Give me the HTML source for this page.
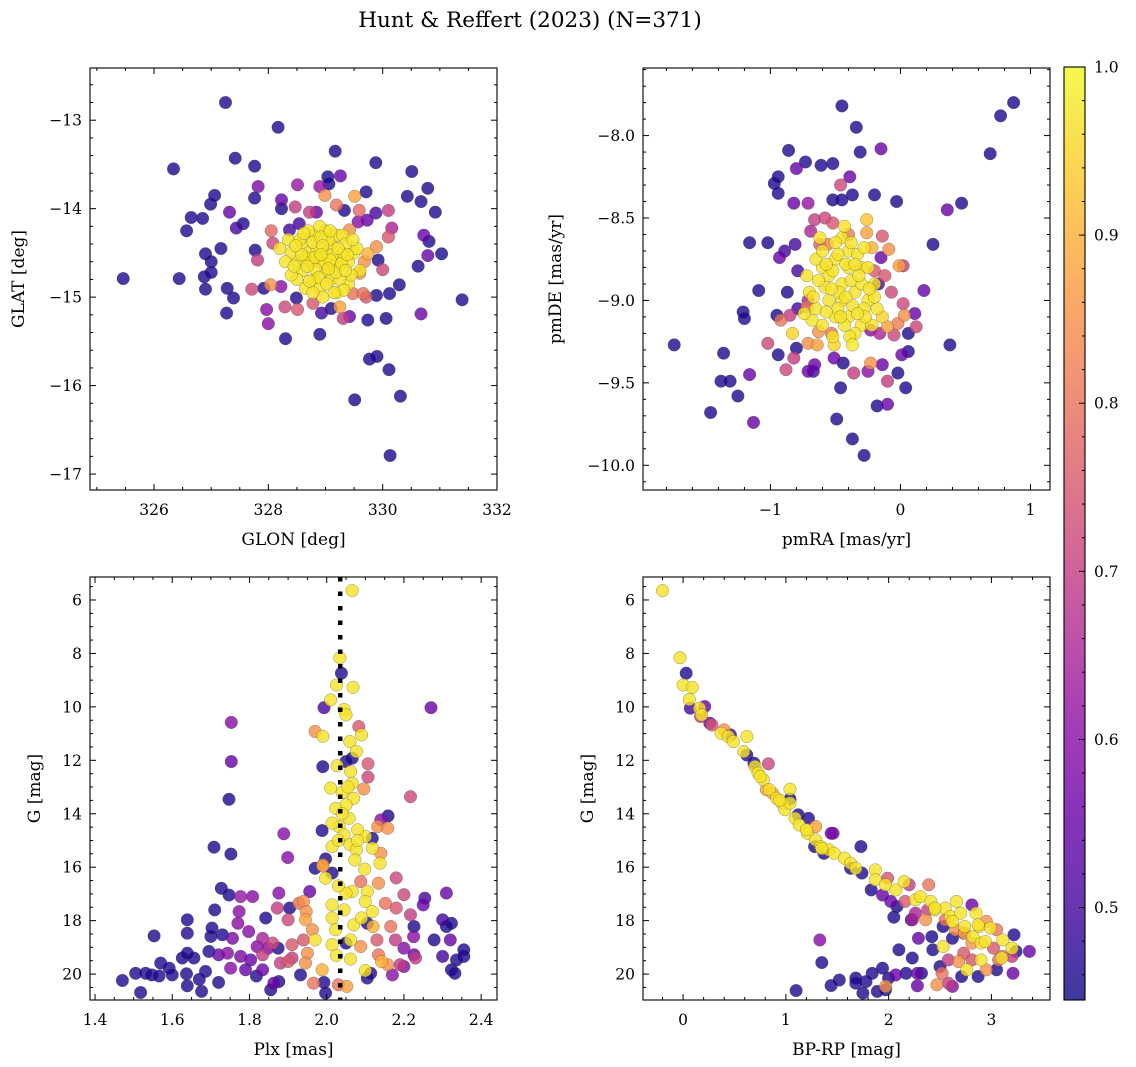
<!DOCTYPE html>
<html><head><meta charset="utf-8">
<style>
html,body{margin:0;padding:0;background:#fff;}
svg{display:block;font-family:"DejaVu Serif","Liberation Serif",serif;}
</style></head>
<body>
<svg id="fig" width="1136" height="1067" viewBox="0 0 1136 1067" xmlns="http://www.w3.org/2000/svg">
<defs>
<linearGradient id="plasmaGrad" x1="0" y1="1" x2="0" y2="0">
<stop offset="0" stop-color="#0d0887"/><stop offset="0.1" stop-color="#41049d"/><stop offset="0.2" stop-color="#6a00a8"/><stop offset="0.3" stop-color="#8f0da4"/><stop offset="0.4" stop-color="#b12a90"/><stop offset="0.5" stop-color="#cc4778"/><stop offset="0.6" stop-color="#e16462"/><stop offset="0.7" stop-color="#f2844b"/><stop offset="0.8" stop-color="#fca636"/><stop offset="0.9" stop-color="#fcce25"/><stop offset="1" stop-color="#f0f921"/>
</linearGradient>
</defs>
<text x="530" y="27" text-anchor="middle" font-size="21.5">Hunt &amp; Reffert (2023) (N=371)</text>
<g id="layer"></g>
</svg>
<script>
// ---------------- DATA ----------------
const cmin = 0.445, cmax = 1.0;
const Y = 0.97;
// Panel 1: [GLON, GLAT, prob]
const skyPoints = [
[325.46,-14.79,.46],[326.34,-13.55,.46],[326.44,-14.79,.46],[326.57,-14.25,.46],[326.65,-14.1,.46],[326.85,-14.11,.46],[326.9,-14.51,.46],[326.9,-14.91,.46],[326.88,-14.77,.46],[326.99,-13.95,.46],[327.0,-14.6,.46],[327.06,-13.85,.46],[327.0,-14.72,.46],[327.17,-14.45,.46],[327.25,-12.8,.46],[327.27,-15.18,.46],[327.28,-14.9,.46],[327.32,-14.04,.55],[327.39,-15.01,.46],[327.42,-13.43,.46],[327.44,-14.22,.5],[327.56,-14.17,.46],[327.76,-13.52,.46],[327.76,-13.88,.46],[327.77,-14.47,.46],[327.82,-13.75,.58],[327.81,-14.58,.7],[327.71,-14.91,.72],[327.92,-14.9,.46],[327.97,-15.14,.6],[328.0,-15.3,.6],[328.05,-14.25,.78],[328.08,-14.39,.72],[328.04,-14.86,.85],[328.17,-13.08,.46],[328.23,-13.9,.55],[328.23,-14.0,.46],[328.22,-14.88,.6],[328.29,-15.11,.72],[328.3,-15.47,.46],[328.47,-13.98,.7],[328.51,-13.73,.62],[328.51,-15.14,.75],[328.49,-15.01,.46],[328.9,-13.75,.62],[328.9,-15.42,.46],[328.93,-15.18,.5],[329.04,-13.64,.46],[329.06,-13.72,.46],[329.17,-13.35,.46],[329.26,-13.63,.55],[329.33,-14.02,.46],[329.19,-13.96,.8],[329.1,-15.13,.46],[329.31,-15.24,.7],[329.42,-15.22,.55],[329.51,-16.16,.46],[329.51,-13.86,.88],[329.59,-14.02,.78],[329.71,-13.81,.46],[329.73,-14.13,.55],[329.74,-15.26,.46],[329.77,-15.7,.46],[329.9,-15.67,.46],[329.88,-13.48,.46],[329.88,-14.05,.5],[329.89,-14.98,.46],[329.92,-14.58,.46],[330.0,-14.69,.72],[329.89,-14.43,.85],[329.74,-14.51,.9],[330.1,-14.02,.7],[330.1,-14.32,.75],[330.16,-14.22,.65],[330.12,-14.96,.46],[330.06,-15.24,.46],[330.11,-15.82,.46],[330.13,-16.79,.46],[330.29,-14.86,.46],[330.31,-16.12,.46],[330.43,-13.86,.46],[330.51,-13.58,.46],[330.62,-14.65,.46],[330.67,-13.92,.46],[330.72,-14.3,.55],[330.67,-15.19,.55],[330.79,-13.77,.46],[330.79,-14.53,.55],[330.81,-14.37,.46],[330.92,-14.04,.46],[331.03,-14.51,.46],[331.39,-15.03,.46],[329.48,-14.96,.8],[329.66,-14.96,.8],[329.71,-15.0,.75],[329.6,-14.73,.85],[329.68,-14.6,.85],[328.99,-13.85,.85],[328.72,-14.04,.7],[328.84,-14.04,.55],[328.54,-14.17,.5],[328.37,-14.24,.5],[329.42,-14.24,.85],[329.57,-14.15,.6],[328.78,-15.07,.75],[329.25,-15.11,.88],
[328.6,-14.4,Y],[328.7,-14.5,Y],[328.8,-14.3,Y],[328.9,-14.6,Y],[329.0,-14.5,Y],[329.1,-14.4,Y],[329.2,-14.6,Y],[329.3,-14.5,Y],[329.0,-14.7,Y],[328.8,-14.8,Y],[328.9,-14.9,Y],[329.1,-14.8,Y],[329.2,-14.3,Y],[329.4,-14.6,Y],[329.5,-14.5,Y],[328.5,-14.6,Y],[328.4,-14.5,Y],[328.3,-14.6,Y],[328.6,-14.7,Y],[328.7,-14.25,Y],[329.0,-14.25,Y],[329.3,-14.3,Y],[329.6,-14.7,Y],[329.4,-14.85,Y],[329.2,-14.95,Y],[328.95,-15.0,Y],[328.5,-14.8,Y],[328.35,-14.35,Y],[329.55,-14.45,Y],[328.85,-14.45,Y],[329.05,-14.35,Y],[329.15,-14.65,Y],[328.75,-14.6,Y],[328.55,-14.35,Y],[329.35,-14.4,Y],[329.25,-14.8,Y],[328.65,-14.9,Y],[328.4,-14.75,Y],[328.9,-14.2,Y],[329.45,-14.75,Y],[328.2,-14.45,Y],[328.98,-14.62,Y],[329.12,-14.52,Y],[328.82,-14.68,Y],
[328.65,-14.55,Y],[328.78,-14.38,Y],[328.92,-14.32,Y],[329.08,-14.58,Y],[329.18,-14.72,Y],[329.28,-14.62,Y],[329.38,-14.52,Y],[328.88,-14.78,Y],[329.02,-14.85,Y],[328.72,-14.82,Y],[328.58,-14.52,Y],[328.48,-14.42,Y],[329.32,-14.92,Y],[329.08,-14.25,Y],[328.82,-14.55,Y],[329.22,-14.45,Y],[328.68,-14.65,Y],[328.95,-14.42,Y],[329.15,-14.95,Y],[328.78,-14.95,Y],[329.48,-14.35,Y],[328.45,-14.65,Y],[329.05,-14.68,Y],[328.92,-14.52,Y],[329.35,-14.7,Y],[328.62,-14.28,Y]
];
// Panel 2: [pmRA, pmDE, prob]
const pmPoints = [
[-1.74,-9.27,.46],[-1.46,-9.68,.46],[-1.38,-9.49,.46],[-1.31,-9.49,.46],[-1.36,-9.32,.46],[-1.25,-9.58,.46],[-1.21,-9.07,.46],[-1.2,-9.11,.46],[-1.16,-9.45,.55],[-1.13,-9.74,.55],[-1.16,-8.65,.46],[-1.09,-8.94,.46],[-1.02,-8.65,.46],[-1.02,-9.26,.72],[-0.95,-9.09,.46],[-0.94,-9.33,.46],[-0.97,-8.29,.46],[-0.94,-8.25,.46],[-0.94,-8.35,.46],[-0.86,-8.09,.46],[-0.87,-8.95,.46],[-0.88,-9.42,.72],[-0.82,-8.41,.55],[-0.8,-8.2,.55],[-0.73,-8.16,.46],[-0.71,-8.41,.62],[-0.61,-8.18,.46],[-0.52,-8.17,.46],[-0.45,-7.82,.46],[-0.52,-8.39,.46],[-0.45,-8.39,.46],[-0.37,-8.36,.46],[-0.39,-8.25,.55],[-0.46,-8.3,.72],[-0.34,-7.95,.46],[-0.31,-8.1,.46],[-0.15,-8.08,.55],[-0.2,-8.36,.46],[-0.03,-8.4,.46],[0.25,-8.66,.46],[0.36,-8.45,.55],[0.47,-8.41,.46],[0.69,-8.11,.46],[0.77,-7.88,.46],[0.87,-7.8,.46],[0.38,-9.27,.46],[0.18,-8.94,.55],[0.11,-9.08,.55],[0.12,-9.16,.72],[0.06,-9.2,.46],[0.06,-9.31,.46],[0.01,-9.33,.55],[0.04,-9.53,.46],[-0.02,-9.44,.46],[-0.1,-9.49,.7],[-0.1,-9.63,.55],[-0.18,-9.64,.46],[-0.28,-9.94,.46],[-0.37,-9.84,.46],[-0.49,-9.72,.46],[-0.46,-9.53,.46],[-0.44,-9.38,.46],[-0.14,-9.39,.55],[-0.25,-9.43,.6],[-0.36,-9.44,.7],[-0.23,-9.38,.85],[-0.67,-9.43,.5],[-0.71,-9.43,.55],[-0.82,-9.35,.7],[-0.8,-9.29,.46],[-0.66,-9.39,.55],[-0.51,-9.35,.55],
[-0.83,-9.2,.95],[-0.71,-9.26,.85],[-0.64,-9.27,.88],[-0.51,-9.27,.95],[-0.37,-9.27,.98],[-0.63,-9.19,.85],[-0.53,-9.2,.8],[-0.92,-9.12,.8],[-0.85,-9.09,.7],[-0.71,-9.0,.65],[-0.72,-9.04,.8],[-0.79,-8.82,.5],[-0.79,-9.05,.5],[-0.93,-8.74,.55],[-0.89,-8.7,.5],[-0.81,-8.66,.5],[-0.69,-8.58,.65],[-0.66,-8.51,.7],[-0.58,-8.5,.72],[-0.52,-8.53,.75],[-0.62,-8.66,.75],[-0.56,-8.66,.82],[-0.4,-8.6,.82],[-0.26,-8.59,.88],[-0.22,-8.68,.9],[-0.26,-8.51,.93],[-0.14,-8.61,.75],[-0.09,-8.69,.85],[-0.2,-8.82,.75],[-0.12,-8.85,.75],[-0.01,-8.79,.88],[0.02,-8.79,.7],[-0.07,-8.95,.72],[0.02,-9.02,.72],[0.03,-9.09,.85],[-0.02,-9.14,.82],[-0.1,-9.16,.88],[-0.05,-9.21,.72],[-0.14,-9.1,.95],[-0.16,-9.2,.65],[-0.23,-9.18,.6],[-0.15,-8.74,.55],[-0.17,-8.9,.5],
[-0.6,-8.8,Y],[-0.5,-8.75,Y],[-0.4,-8.7,Y],[-0.3,-8.8,Y],[-0.45,-8.9,Y],[-0.35,-8.95,Y],[-0.55,-9.0,Y],[-0.25,-9.0,Y],[-0.5,-9.1,Y],[-0.4,-9.1,Y],[-0.3,-9.15,Y],[-0.6,-9.15,Y],[-0.2,-8.9,Y],[-0.18,-9.05,Y],[-0.7,-8.95,Y],[-0.65,-8.75,Y],[-0.45,-8.62,Y],[-0.38,-8.65,Y],[-0.72,-8.85,Y],[-0.52,-9.22,Y],[-0.35,-9.2,Y],[-0.22,-9.15,Y],[-0.62,-8.62,Y],[-0.3,-8.9,Y],[-0.45,-9.0,Y],[-0.55,-8.85,Y],[-0.4,-8.8,Y],[-0.28,-9.05,Y],[-0.48,-9.05,Y],[-0.38,-8.88,Y],[-0.65,-9.05,Y],[-0.2,-8.98,Y],[-0.33,-8.72,Y],[-0.43,-8.55,Y],[-0.25,-8.8,Y],[-0.58,-8.92,Y],[-0.68,-9.12,Y],[-0.5,-8.65,Y],
[-0.52,-8.82,Y],[-0.42,-8.78,Y],[-0.32,-8.85,Y],[-0.47,-8.95,Y],[-0.37,-9.03,Y],[-0.57,-9.07,Y],[-0.27,-9.1,Y],[-0.43,-9.15,Y],[-0.33,-9.08,Y],[-0.6,-8.7,Y],[-0.53,-8.93,Y],[-0.63,-8.88,Y],[-0.42,-8.98,Y],[-0.35,-8.78,Y],[-0.48,-8.72,Y],[-0.24,-8.93,Y],[-0.39,-9.22,Y],[-0.57,-8.78,Y],[-0.46,-9.1,Y],[-0.67,-8.98,Y],[-0.28,-8.68,Y],[-0.74,-9.08,Y]
];
// Panel 3: [Plx, G, prob]
const plxPoints = [
[2.066,5.65,Y],[2.034,8.16,Y],[2.038,8.74,.46],[2.025,9.18,Y],[2.068,9.27,Y],[2.01,9.74,Y],[1.993,10.03,.5],[2.045,10.1,Y],[2.05,10.3,Y],[2.27,10.03,.55],[1.753,10.58,.6],[1.753,12.05,.55],[1.747,13.46,.46],[1.708,15.25,.46],[1.752,15.51,.46],[1.99,12.24,.46],[1.97,10.92,.85],[1.99,11.1,Y],[2.083,10.74,.75],[2.09,11.05,Y],[2.06,11.3,Y],[2.077,11.67,Y],[2.066,11.92,.46],[2.05,12.05,.46],[2.107,12.13,.75],[2.107,12.63,.72],[2.096,13.07,.85],[2.217,13.36,.72],[2.027,12.2,Y],[2.062,12.42,Y],[2.01,13.04,Y],[2.066,12.86,Y],[2.07,13.42,Y],[2.05,13.67,Y],[2.023,13.8,Y],[2.058,14.17,Y],[2.032,14.48,Y],[2.014,14.35,Y],[1.988,14.63,.46],[1.889,14.75,.6],[1.899,15.64,.6],[2.159,14.08,.46],[2.14,14.23,.6],[2.132,14.48,.85],[2.158,14.54,.85],[2.118,14.92,.46],[2.1,14.85,Y],[2.045,14.79,Y],[2.014,15.23,Y],[2.06,15.16,Y],[2.077,15.35,Y],[2.118,15.29,Y],[2.14,15.48,.85],[2.073,15.73,Y],[2.138,15.85,Y],[2.098,16.07,Y],[1.997,15.69,.46],[1.97,16.04,.46],[1.99,15.95,.88],[2.014,16.22,.46],[1.997,16.41,Y],[2.088,16.54,.8],[2.134,16.6,.85],[2.18,16.4,.72],[2.066,16.91,Y],[2.105,16.91,Y],[2.1,17.28,Y],[2.118,17.66,Y],[2.07,18.16,Y],[2.062,18.72,Y],[2.062,19.44,Y],[2.1,19.87,Y],[2.014,17.41,Y],[2.014,17.9,Y],[2.023,18.34,Y],[2.014,18.9,Y],[1.97,18.72,Y],[2.045,17.6,Y],[2.05,16.97,Y],[2.04,13.2,Y],[2.03,15.0,Y],[2.08,14.6,Y],[2.04,14.0,Y],[2.055,13.0,Y],[2.03,16.7,Y],[2.08,15.0,Y],[2.025,19.3,Y],[2.09,17.9,Y],
[1.94,17.28,.85],[1.947,17.66,.85],[1.945,17.97,.88],[1.928,17.35,.8],[1.956,16.91,.55],[1.99,15.91,.85],[1.963,18.34,.85],[1.94,18.72,.75],[1.95,19.22,.85],[1.945,19.59,.85],[1.988,19.84,.9],[1.966,20.34,.8],[2.03,20.4,.8],[2.052,20.46,.88],[2.088,18.97,.85],[2.12,18.22,.9],[2.142,19.53,.9],[2.158,19.65,.85],[2.134,19.28,.8],[2.166,18.22,.8],[2.18,17.53,.75],[2.2,17.03,.72],[2.217,17.78,.7],[2.25,17.41,.55],[2.178,18.72,.7],[2.2,19.03,.6],[2.19,19.65,.7],[2.23,19.4,.7],[2.225,18.6,.6],[2.152,17.35,.8],[2.13,18.72,.75],[1.91,18.9,.75],[1.9,19.53,.75],[1.88,19.59,.7],[1.86,18.84,.72],[1.872,17.53,.7],[1.876,16.97,.6],[1.9,17.97,.72],[1.91,19.4,.7],[1.808,17.1,.6],[1.777,17.1,.62],[1.773,17.66,.6],[1.77,18.1,.6],[1.756,18.66,.58],[1.798,18.41,.6],[1.82,18.97,.6],[1.834,18.66,.65],[1.848,19.03,.6],[1.834,19.28,.7],[1.777,19.34,.58],[1.751,19.78,.6],[1.72,19.28,.55],[1.743,19.22,.6],[2.31,16.97,.55],[2.17,20.03,.6],[2.2,19.72,.6],[2.32,18.72,.55],[2.3,19.34,.5],[1.834,19.84,.55],[1.863,20.34,.55],[1.79,19.84,.55],[1.803,19.47,.55],[2.226,19.28,.55],
[1.471,20.24,.46],[1.505,19.97,.46],[1.518,20.69,.46],[1.531,19.97,.46],[1.547,20.03,.46],[1.566,20.07,.46],[1.553,18.57,.46],[1.57,19.59,.46],[1.592,19.78,.46],[1.6,20.03,.46],[1.626,19.4,.46],[1.639,17.97,.46],[1.639,18.47,.46],[1.639,19.22,.46],[1.637,19.99,.46],[1.639,20.44,.46],[1.656,19.4,.46],[1.67,20.2,.46],[1.676,20.65,.46],[1.686,19.9,.46],[1.695,19.15,.46],[1.7,18.59,.46],[1.703,18.28,.46],[1.71,17.6,.46],[1.72,20.31,.46],[1.727,16.79,.46],[1.73,18.53,.46],[1.747,17.04,.46],[1.818,20.07,.46],[1.842,17.9,.46],[1.855,20.59,.46],[1.876,20.28,.46],[1.874,19.03,.46],[1.904,17.53,.46],[1.932,20.03,.46],[1.993,20.31,.46],[1.997,20.71,.46],[2.05,18.84,.46],[2.105,20.15,.46],[2.114,19.97,.46],[2.105,18.1,.46],[2.226,18.22,.46],[2.278,18.72,.46],[2.3,17.97,.5],[2.31,18.22,.46],[2.323,18.1,.46],[2.323,19.84,.46],[2.332,19.97,.46],[2.336,19.47,.46],[2.355,19.34,.46],[2.355,19.09,.46],[2.254,17.16,.5]
];
// Panel 4: [BP-RP, G, prob]
const cmdPoints = [
[-0.2,5.65,Y],[-0.03,8.16,Y],[0.0,9.18,Y],[0.09,9.27,Y],[0.06,9.72,Y],[0.16,10.05,Y],[0.18,10.3,Y],[0.37,10.99,Y],[0.44,11.11,Y],[0.49,11.3,Y],[0.62,11.11,Y],[0.59,11.67,Y],[0.7,12.23,Y],[0.73,12.48,Y],[0.78,12.73,Y],[0.84,13.1,Y],[0.91,13.42,Y],[0.96,13.6,Y],[0.99,13.85,Y],[1.04,13.6,Y],[1.04,13.08,Y],[1.09,14.17,Y],[1.13,14.42,Y],[1.21,14.73,Y],[1.29,14.98,Y],[1.34,15.23,Y],[1.42,15.35,Y],[1.47,15.48,Y],[1.57,15.66,Y],[1.63,15.85,Y],[1.68,16.04,Y],[1.87,16.1,Y],[1.87,16.47,Y],[1.97,16.66,Y],[2.07,16.85,Y],[2.15,16.54,Y],[2.26,17.22,Y],[2.31,17.1,Y],[2.41,17.28,Y],[2.45,17.6,Y],[2.55,17.53,Y],[2.6,17.85,Y],[2.66,17.28,Y],[2.7,17.72,Y],[2.62,18.03,Y],[2.74,18.22,Y],[2.82,18.6,Y],[2.85,17.72,Y],[2.88,18.22,Y],[2.9,18.84,Y],[2.94,18.78,Y],[2.99,18.28,Y],[3.11,18.72,Y],[3.2,19.03,Y],[3.1,19.4,Y],[2.9,19.47,Y],[2.76,19.84,Y],[2.53,18.97,Y],[2.87,18.16,Y],[2.45,17.53,Y],[1.35,15.3,Y],[1.2,14.6,Y],[0.94,13.5,Y],[0.75,12.6,Y],
[0.28,10.68,.75],[0.17,10.36,.7],[0.4,10.86,.85],[0.83,12.13,.72],[0.81,13.1,.88],[0.87,13.23,.88],[1.29,14.48,.88],[1.99,16.41,.75],[2.2,16.66,.7],[2.39,16.66,.8],[2.16,17.28,.75],[2.38,17.6,.7],[2.26,17.72,.65],[2.36,17.97,.85],[2.55,17.97,.8],[2.65,18.34,.85],[2.74,18.47,.9],[2.81,18.84,.85],[2.95,18.03,.85],[3.05,18.34,.8],[3.02,19.03,.75],[3.07,19.47,.8],[2.95,19.84,.85],[2.68,19.53,.85],[2.58,19.47,.7],[2.52,19.97,.8],[2.58,20.34,.7],[2.47,20.4,.85],[1.97,20.46,.85],[2.81,19.47,.75],[3.11,19.34,.8],[2.73,19.22,.75],[3.2,19.34,.7],[2.23,17.97,.65],
[0.03,8.74,.46],[0.07,10.05,.5],[0.21,9.99,.55],[0.26,10.61,.55],[0.46,11.05,.5],[0.62,11.8,.46],[0.69,12.11,.46],[1.04,13.45,.46],[1.12,14.04,.46],[1.22,14.17,.46],[1.28,15.23,.46],[1.37,15.48,.46],[1.44,14.73,.58],[1.46,14.73,.55],[1.73,15.23,.46],[1.74,16.22,.46],[1.63,16.04,.46],[1.83,16.85,.46],[1.94,17.04,.55],[2.02,17.28,.55],[2.08,17.47,.46],[2.05,17.87,.46],[2.22,17.97,.46],[2.29,18.66,.55],[2.42,18.6,.46],[2.43,19.09,.46],[2.53,18.22,.46],[2.62,18.66,.46],[2.73,18.47,.55],[2.81,17.41,.55],[3.22,18.53,.46],[3.37,19.15,.55],[3.21,19.97,.55],[3.24,19.15,.46],[3.05,19.84,.46],[2.87,20.09,.46],[2.71,20.09,.46],[2.62,20.46,.6],[2.5,19.72,.46],[2.1,19.09,.46],[2.23,19.4,.46],[2.17,19.97,.46],[2.28,19.97,.55],[2.32,19.97,.46],[2.28,20.44,.55],[2.07,20.03,.55],[2.0,20.15,.46],[1.94,19.78,.46],[1.84,19.97,.46],[1.78,20.28,.46],[1.68,20.15,.46],[1.68,20.34,.46],[1.75,20.71,.46],[1.89,20.65,.46],[1.97,20.59,.46],[1.52,20.22,.46],[1.44,20.43,.46],[1.1,20.62,.46],[1.35,19.57,.46],[1.33,18.72,.6]
];
const refPlx = [2.035];
const cbarTicks = [0.5,0.6,0.7,0.8,0.9,1.0];

// ---------------- HELPERS ----------------
const NS = "http://www.w3.org/2000/svg";
const layer = document.getElementById('layer');
function mk(tag, attrs, parent){
  const e = document.createElementNS(NS, tag);
  for (const k in attrs) e.setAttribute(k, attrs[k]);
  (parent||layer).appendChild(e);
  return e;
}
const stops = [[0,[13,8,135]],[0.1,[65,4,157]],[0.2,[106,0,168]],[0.3,[143,13,164]],[0.4,[177,42,144]],[0.5,[204,71,120]],[0.6,[225,100,98]],[0.7,[242,132,75]],[0.8,[252,166,54]],[0.9,[252,206,37]],[1,[240,249,33]]];
function plasma(p){
  let t = (p - cmin)/(cmax - cmin); t = Math.max(0, Math.min(1, t));
  for (let i=0;i<stops.length-1;i++){
    const [a,ca]=stops[i],[b,cb]=stops[i+1];
    if (t<=b){ const f=(t-a)/(b-a); return 'rgb('+ca.map((c,j)=>Math.round(c+(cb[j]-c)*f)).join(',')+')'; }
  }
  return 'rgb(240,249,33)';
}
function fmt(v, d){ const s = v.toFixed(d); return s.charAt(0)==='-' ? '\u2212'+s.slice(1) : s; }

function panel(cfg){
  const g = mk('g', {});
  
  
  const sx = v => cfg.x0 + (v - cfg.xlim[0])/(cfg.xlim[1]-cfg.xlim[0])*(cfg.x1-cfg.x0);
  const sy = v => cfg.y0 + (v - cfg.ylim[0])/(cfg.ylim[1]-cfg.ylim[0])*(cfg.y1-cfg.y0);
  const pts = cfg.data.slice().sort((a,b)=>a[2]-b[2]);
  const pg = mk('g', {}, g);
  
  
  for (const d of pts){
    const c = mk('circle', {cx:sx(d[0]).toFixed(1), cy:sy(d[1]).toFixed(1), r:6.3, fill:plasma(d[2]), 'fill-opacity':0.8, stroke:'rgba(70,70,70,0.55)', 'stroke-width':0.5}, pg);
    
    
  }
  if (cfg.refLine){
    for (const v of cfg.refLine){
      const l = mk('line', {x1:sx(v), x2:sx(v), y1:cfg.y0, y2:cfg.y1, stroke:'#000', 'stroke-width':4.5, 'stroke-dasharray':'4.5 10'}, g);
      
      
    }
  }
  const fr = mk('rect', {x:cfg.x0, y:cfg.y0, width:cfg.x1-cfg.x0, height:cfg.y1-cfg.y0, fill:'none', stroke:'#000', 'stroke-width':1.1}, g);
  
  
  const tk = mk('g', {stroke:'#000', 'stroke-width':1}, g);
  
  
  const xa=Math.min(...cfg.xlim), xb=Math.max(...cfg.xlim), ya=Math.min(...cfg.ylim), yb=Math.max(...cfg.ylim);
  for (let v=Math.ceil(xa/cfg.xmin-1e-6)*cfg.xmin; v<=xb+1e-9; v+=cfg.xmin){
    const isMaj = Math.abs(v/cfg.xmaj - Math.round(v/cfg.xmaj))<1e-6;
    const L = isMaj?6:3, X=sx(v);
    mk('line',{x1:X,x2:X,y1:cfg.y1,y2:cfg.y1-L},tk); mk('line',{x1:X,x2:X,y1:cfg.y0,y2:cfg.y0+L},tk);
    if (isMaj){
      const t = mk('text',{x:X,y:cfg.y1+25,'text-anchor':'middle','font-size':15.5,stroke:'none',fill:'#000'},g);
      t.textContent = fmt(Math.round(v/cfg.xmaj)*cfg.xmaj, cfg.xdec);
      
      
    }
  }
  for (let v=Math.ceil(ya/cfg.ymin-1e-6)*cfg.ymin; v<=yb+1e-9; v+=cfg.ymin){
    const isMaj = Math.abs(v/cfg.ymaj - Math.round(v/cfg.ymaj))<1e-6;
    const L = isMaj?6:3, Yp=sy(v);
    mk('line',{x1:cfg.x0,x2:cfg.x0+L,y1:Yp,y2:Yp},tk); mk('line',{x1:cfg.x1,x2:cfg.x1-L,y1:Yp,y2:Yp},tk);
    if (isMaj){
      const t = mk('text',{x:cfg.x0-8,y:Yp+5.5,'text-anchor':'end','font-size':15.5,stroke:'none',fill:'#000'},g);
      t.textContent = fmt(Math.round(v/cfg.ymaj)*cfg.ymaj, cfg.ydec);
      
      
    }
  }
  const xl = mk('text',{x:(cfg.x0+cfg.x1)/2,y:cfg.y1+55,'text-anchor':'middle','font-size':17},g);
  xl.textContent = cfg.xlabel;
  
  
  const yl = mk('text',{x:cfg.ylx,y:(cfg.y0+cfg.y1)/2,'text-anchor':'middle','font-size':17,transform:'rotate(-90 '+cfg.ylx+' '+((cfg.y0+cfg.y1)/2)+')'},g);
  yl.textContent = cfg.ylabel;
  
  
}

panel({name:'sky-position-panel', data:skyPoints, x0:90,x1:497,y0:68,y1:490, xlim:[324.88,332.0], ylim:[-12.41,-17.18], xmaj:2,xmin:0.5,xdec:0, ymaj:1,ymin:0.2,ydec:0, xlabel:'GLON [deg]', ylabel:'GLAT [deg]', ylx:24});
panel({name:'proper-motion-panel', data:pmPoints, x0:643,x1:1050,y0:68,y1:490, xlim:[-1.98,1.15], ylim:[-7.59,-10.15], xmaj:1,xmin:0.2,xdec:0, ymaj:0.5,ymin:0.1,ydec:1, xlabel:'pmRA [mas/yr]', ylabel:'pmDE [mas/yr]', ylx:561});
panel({name:'parallax-magnitude-panel', data:plxPoints, x0:90,x1:497,y0:577,y1:1000, xlim:[1.387,2.441], ylim:[5.14,20.97], xmaj:0.2,xmin:0.05,xdec:1, ymaj:2,ymin:0.5,ydec:0, xlabel:'Plx [mas]', ylabel:'G [mag]', ylx:40, refLine:refPlx});
panel({name:'color-magnitude-panel', data:cmdPoints, x0:643,x1:1050,y0:577,y1:1000, xlim:[-0.39,3.57], ylim:[5.14,20.97], xmaj:1,xmin:0.2,xdec:0, ymaj:2,ymin:0.5,ydec:0, xlabel:'BP-RP [mag]', ylabel:'G [mag]', ylx:593});

(function(){
  const x0=1064,x1=1085,y0=67,y1=1000;
  const g = mk('g',{});
  
  
  mk('rect',{x:x0,y:y0,width:x1-x0,height:y1-y0,fill:'url(#plasmaGrad)','fill-opacity':0.8},g);
  mk('rect',{x:x0,y:y0,width:x1-x0,height:y1-y0,fill:'none',stroke:'#000','stroke-width':1.1},g);
  const sy = v => y1 - (v-cmin)/(cmax-cmin)*(y1-y0);
  for (let i=Math.ceil(cmin/0.02); i*0.02<=cmax+1e-9; i++){
    const v=i*0.02, Yp=sy(v), maj = i%5===0;
    mk('line',{x1:x1,x2:x1-(maj?6:3),y1:Yp,y2:Yp,stroke:'#000','stroke-width':1},g);
  }
  for (const v of cbarTicks){
    const t = mk('text',{x:x1+9,y:sy(v)+5.5,'font-size':15.5},g);
    t.textContent = v.toFixed(1);
    
    
  }
})();
</script>
</body></html>
